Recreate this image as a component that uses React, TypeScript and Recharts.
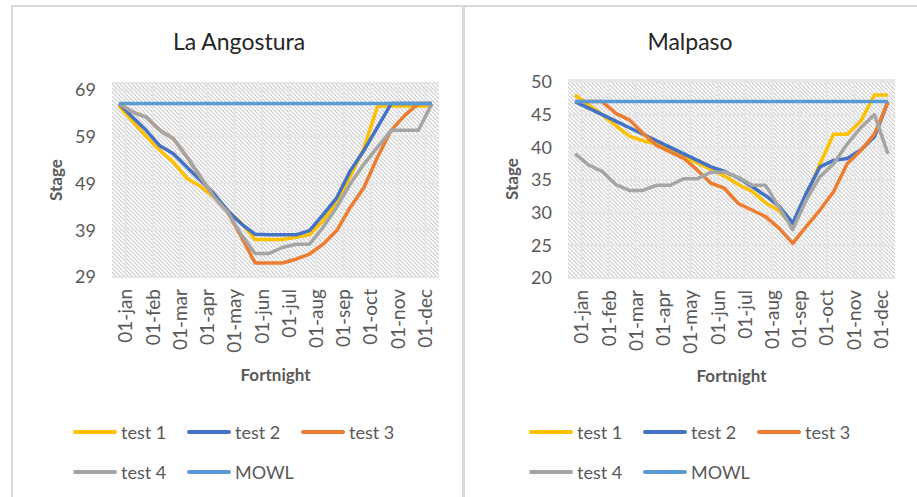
import { LineChart, Line, XAxis, YAxis, CartesianGrid, Legend } from "recharts";

const fortnights = [
  "01-jan", "15-jan", "01-feb", "15-feb", "01-mar", "15-mar",
  "01-apr", "15-apr", "01-may", "15-may", "01-jun", "15-jun",
  "01-jul", "15-jul", "01-aug", "15-aug", "01-sep", "15-sep",
  "01-oct", "15-oct", "01-nov", "15-nov", "01-dec", "15-dec",
];

// La Angostura
const angTest1 = [65.5, 62.3, 59, 56, 53.5, 50, 48.3, 46, 43, 40.5, 37, 37, 37, 37.5, 38, 41, 45, 50.5, 56.5, 65.5, 65.5, 65.5, 65.5, 65.5];
const angTest2 = [66, 63.1, 60.3, 57, 55.3, 52.4, 49.6, 46.7, 43.1, 40.3, 38.1, 38, 38, 38, 38.9, 42.3, 45.9, 51.7, 56, 61, 66, 66, 66, 66];
const angTest3 = [66, 64.2, 63.1, 60.3, 58.5, 54.6, 50.3, 46, 42.8, 37.5, 32, 32, 32, 32.8, 33.9, 36, 38.9, 43.9, 48.1, 54.6, 60.3, 63.5, 66, 66];
const angTest4 = [66, 64.2, 63.1, 60.3, 58.5, 54.6, 50.3, 46, 42.8, 38, 34, 34, 35.3, 36, 36, 39.6, 43.9, 48.9, 53.1, 56.7, 60.3, 60.3, 60.3, 66];
const angMowl = [66, 66, 66, 66, 66, 66, 66, 66, 66, 66, 66, 66, 66, 66, 66, 66, 66, 66, 66, 66, 66, 66, 66, 66];
const angTicks = [29, 39, 49, 59, 69];

// Malpaso
const malTest1 = [48, 46.5, 45, 43.3, 41.7, 41, 40.5, 39.5, 38.6, 37.6, 36.6, 35.6, 34.3, 33.3, 31.5, 30.3, 28, 32.5, 37.5, 42, 42, 44, 48, 48];
const malTest2 = [47, 46, 45, 44, 43, 42, 41, 40, 39, 38, 37, 36.3, 35.3, 34, 32.6, 31, 28.4, 33, 37, 38, 38.3, 39.6, 41.6, 47];
const malTest3 = [47, 47, 47, 45.2, 44.2, 42.1, 40.3, 39.3, 38.3, 36.5, 34.5, 33.7, 31.4, 30.4, 29.4, 27.6, 25.3, 27.9, 30.4, 33.2, 37.5, 39.5, 42, 47];
const malTest4 = [39, 37.3, 36.3, 34.3, 33.4, 33.4, 34.2, 34.2, 35.2, 35.2, 36.2, 36.2, 35.4, 34.2, 34.2, 30.8, 27.4, 32, 35.5, 37.5, 40.5, 43, 45, 39];
const malMowl = [47, 47, 47, 47, 47, 47, 47, 47, 47, 47, 47, 47, 47, 47, 47, 47, 47, 47, 47, 47, 47, 47, 47, 47];
const malTicks = [20, 25, 30, 35, 40, 45, 50];

const series = [
  { key: "test1", name: "test 1", color: "#FFC000" },
  { key: "test2", name: "test 2", color: "#4472C4" },
  { key: "test3", name: "test 3", color: "#ED7D31" },
  { key: "test4", name: "test 4", color: "#A5A5A5" },
  { key: "mowl", name: "MOWL", color: "#5B9BD5" },
];

function buildRows(t1: number[], t2: number[], t3: number[], t4: number[], mowl: number[]) {
  return fortnights.map((f, i) => ({
    fortnight: f,
    test1: t1[i],
    test2: t2[i],
    test3: t3[i],
    test4: t4[i],
    mowl: mowl[i],
  }));
}

const GREY_TEXT = "#595959";

function LegendBox({ payload }: any) {
  const order = series.map((s) => s.name);
  const items = [...(payload || [])].sort((a: any, b: any) => order.indexOf(a.value) - order.indexOf(b.value));
  return (
    <div style={{ display: "flex", flexWrap: "wrap", width: 345 }}>
      {items.map((p: any) => (
        <div key={p.value} style={{ width: 114, height: 40, display: "flex", alignItems: "center" }}>
          <span style={{ width: 44, height: 4, background: p.color, borderRadius: 2, marginRight: 4 }} />
          <span style={{ fontSize: 18, color: GREY_TEXT }}>{p.value}</span>
        </div>
      ))}
    </div>
  );
}

interface PanelProps {
  id: string;
  title: string;
  rows: any[];
  domain: [number, number];
  ticks: number[];
  left: number;
  width: number;
  yWidth: number;
  top: number;
  right: number;
  bottom: number;
  legendLeft: number;
  titleX: number;
  stageDx: number;
}

function StagePanel(p: PanelProps) {
  return (
    <div style={{ position: "absolute", left: p.left, top: 0 }}>
      <div
        style={{
          position: "absolute",
          left: p.titleX - 150,
          top: 27,
          width: 300,
          textAlign: "center",
          fontSize: 23,
          color: "#262626",
        }}
      >
        {p.title}
      </div>
      <LineChart width={p.width} height={497} data={p.rows} margin={{ top: p.top, right: p.right, bottom: p.bottom, left: 0 }}>
        <CartesianGrid
          fill={`url(#${p.id})`}
          fillOpacity={1}
          stroke="#e6e6e6"
          strokeWidth={2}
          verticalCoordinatesGenerator={({ offset }: any) =>
            fortnights
              .filter((_, i) => i % 2 === 0)
              .map((_, k) => offset.left + (offset.width * (2 * k + 1)) / fortnights.length)
          }
        />
        <XAxis
          dataKey="fortnight"
          interval={1}
          height={104}
          axisLine={false}
          tickLine={false}
          tickSize={0}
          tickMargin={12}
          padding={{ left: 7, right: 7 }}
          tick={{ angle: -90, textAnchor: "end", verticalAnchor: "middle", fontSize: 19, fill: GREY_TEXT }}
          label={{ value: "Fortnight", position: "insideBottom", offset: 0, fontSize: 17, fontWeight: 700, fill: GREY_TEXT }}
        />
        <YAxis
          type="number"
          domain={p.domain}
          ticks={p.ticks}
          width={p.yWidth}
          axisLine={false}
          tickLine={false}
          tickSize={0}
          tickMargin={16}
          tick={{ fontSize: 18, fill: GREY_TEXT }}
          label={{ value: "Stage", angle: -90, position: "center", dx: p.stageDx, fontSize: 17, fontWeight: 700, fill: GREY_TEXT }}
        />
        <Legend
          layout="vertical"
          align="center"
          verticalAlign="middle"
          content={<LegendBox />}
          wrapperStyle={{ left: p.legendLeft, top: 412, width: 345 }}
        />
        {series.map((s) => (
          <Line
            key={s.key}
            type="linear"
            dataKey={s.key}
            name={s.name}
            stroke={s.color}
            strokeWidth={3.5}
            strokeLinejoin="round"
            dot={false}
            activeDot={false}
            isAnimationActive={false}
          />
        ))}
      </LineChart>
    </div>
  );
}

function HatchDefs() {
  return (
    <svg width={0} height={0} style={{ position: "absolute" }}>
      <defs>
        {["hatchAng", "hatchMal"].map((id) => (
          <pattern key={id} id={id} width="4" height="4" patternUnits="userSpaceOnUse">
            <rect width="4" height="4" fill="#ffffff" />
            <path d="M-1,-1 L5,5 M3,-1 L5,1 M-1,3 L1,5" stroke="#cccccc" strokeWidth="1.1" />
          </pattern>
        ))}
      </defs>
    </svg>
  );
}

export default function App() {
  const angRows = buildRows(angTest1, angTest2, angTest3, angTest4, angMowl);
  const malRows = buildRows(malTest1, malTest2, malTest3, malTest4, malMowl);

  return (
    <div
      style={{
        position: "absolute",
        left: 0,
        top: 0,
        width: 917,
        height: 497,
        overflow: "hidden",
        background: "#fff",
        fontFamily: "Lato, 'Open Sans', sans-serif",
      }}
    >
      <HatchDefs />
      <div
        style={{
          position: "absolute",
          left: 11,
          top: 5,
          width: 1000,
          height: 600,
          borderTop: "2px solid #d9d9d9",
          borderLeft: "2px solid #d9d9d9",
        }}
      />
      <div style={{ position: "absolute", left: 462, top: 5, width: 3, height: 600, background: "#d9d9d9" }} />
      <StagePanel
        id="hatchAng"
        title="La Angostura"
        rows={angRows}
        domain={[29, 70.4]}
        ticks={angTicks}
        left={0}
        width={465}
        yWidth={112}
        top={83}
        right={26}
        bottom={116}
        legendLeft={73}
        titleX={239}
        stageDx={0}
      />
      <StagePanel
        id="hatchMal"
        title="Malpaso"
        rows={malRows}
        domain={[20, 50.3]}
        ticks={malTicks}
        left={465}
        width={452}
        yWidth={103}
        top={80}
        right={22}
        bottom={115}
        legendLeft={64}
        titleX={225}
        stageDx={-5}
      />
    </div>
  );
}
